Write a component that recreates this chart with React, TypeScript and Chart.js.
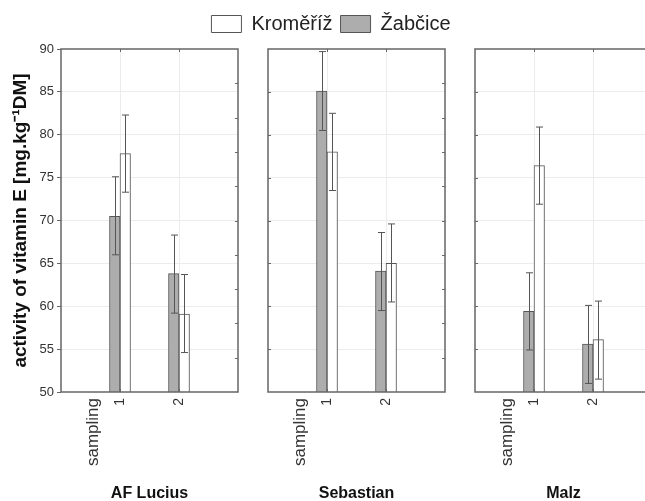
import React, { useEffect, useRef } from 'react';
import { Chart, registerables } from 'chart.js';

Chart.register(...registerables);

// ---- data ----
const cultivars = ['AF Lucius', 'Sebastian', 'Malz'];
const samplings = [1, 2];
const samplingAxisLabel = 'sampling';
const samplingLabelPos = 0.55;
const seriesNames = ['Žabčice', 'Kroměříž'];

// one row per cultivar, one column per sampling
const zabcice = [[70.5, 63.8], [85.1, 64.1], [59.4, 55.6]];
const zabciceHigh = [[75.1, 68.3], [89.7, 68.6], [63.9, 60.1]];
const zabciceLow = [[66.0, 59.2], [80.5, 59.5], [54.9, 51.0]];
const kromeriz = [[77.8, 59.1], [78.0, 65.0], [76.4, 56.1]];
const kromerizHigh = [[82.3, 63.7], [82.5, 69.6], [80.9, 60.6]];
const kromerizLow = [[73.3, 54.6], [73.5, 60.5], [71.9, 51.5]];

const yMin = 50;
const yMax = 90;
const yStep = 5;
const rightTicks = [54, 58, 62, 66, 70, 74, 78, 82, 86];
const yTitle = 'activity of vitamin E [mg.kg⁻¹DM]';

// ---- style / layout ----
const FONT = "'Liberation Sans', Arial, Helvetica, sans-serif";
const GRAY = '#adadad';
const EDGE = '#555555';
const FRAME = '#666666';
const GRID = '#ececec';
const TEXT = '#333333';
const CANVAS_H = 510;
const AREA_TOP = 49;
const AREA_BOTTOM = 392;
const AREA_W = 177;
// [canvasLeft, canvasWidth, yAxisWidth, rightSpace]
const panels: [number, number, number, number][] = [
  [0, 253, 61, 15],
  [147, 368, 121, 70],
  [414, 253, 61, 15],
];

const decor = {
  id: 'decor',
  afterDatasetsDraw(chart: any) {
    const ctx = chart.ctx;
    const ys = chart.scales.y;
    const ca = chart.chartArea;
    ctx.save();
    ctx.beginPath();
    ctx.rect(ca.left, ca.top - 2, ca.right - ca.left, ca.bottom - ca.top + 4);
    ctx.clip();
    ctx.strokeStyle = EDGE;
    ctx.lineWidth = 1;
    chart.data.datasets.forEach((ds: any, di: number) => {
      const meta = chart.getDatasetMeta(di);
      meta.data.forEach((bar: any, i: number) => {
        const x = Math.round(bar.x) + 0.5;
        const yh = ys.getPixelForValue(ds.errHigh[i]);
        const yl = ys.getPixelForValue(ds.errLow[i]);
        ctx.beginPath();
        ctx.moveTo(x, yh);
        ctx.lineTo(x, yl);
        ctx.moveTo(x - 3.5, yh);
        ctx.lineTo(x + 3.5, yh);
        ctx.moveTo(x - 3.5, yl);
        ctx.lineTo(x + 3.5, yl);
        ctx.stroke();
      });
    });
    ctx.restore();
  },
  afterDraw(chart: any) {
    const ctx = chart.ctx;
    const ca = chart.chartArea;
    const xs = chart.scales.x;
    const ys = chart.scales.y;
    const inner = chart.options.plugins.decor.innerLeft;
    ctx.save();
    ctx.strokeStyle = FRAME;
    ctx.lineWidth = 1;
    ctx.beginPath();
    samplings.forEach((s) => {
      const x = Math.round(xs.getPixelForValue(s)) + 0.5;
      ctx.moveTo(x, ca.top);
      ctx.lineTo(x, ca.top + 3);
      ctx.moveTo(x, ca.bottom);
      ctx.lineTo(x, ca.bottom - 3);
    });
    rightTicks.forEach((v) => {
      const y = Math.round(ys.getPixelForValue(v)) + 0.5;
      ctx.moveTo(ca.right, y);
      ctx.lineTo(ca.right - 3, y);
    });
    if (inner) {
      for (let v = yMin + yStep; v < yMax; v += yStep) {
        const y = Math.round(ys.getPixelForValue(v)) + 0.5;
        ctx.moveTo(ca.left, y);
        ctx.lineTo(ca.left + 3, y);
      }
    }
    ctx.stroke();
    ctx.lineWidth = 1.5;
    ctx.strokeRect(ca.left, ca.top, ca.right - ca.left, ca.bottom - ca.top);
    ctx.restore();
  },
};

const hiddenAxis = (position: string, size: number) => ({
  position,
  display: true,
  ticks: { display: false },
  grid: { display: false, drawTicks: false },
  border: { display: false },
  afterFit: (s: any) => {
    if (position === 'top' || position === 'bottom') s.height = size;
    else s.width = size;
  },
});

function makeConfig(p: number): any {
  const [, , yw, rs] = panels[p];
  const first = p === 0;
  const withLegend = p === 1;
  const scales: any = {
    x: {
      type: 'linear',
      min: 0,
      max: 3,
      offset: false,
      afterBuildTicks: (s: any) => {
        s.ticks = [{ value: samplingLabelPos }, ...samplings.map((v) => ({ value: v }))];
      },
      afterFit: (s: any) => {
        s.height = CANVAS_H - AREA_BOTTOM;
      },
      ticks: {
        autoSkip: false,
        minRotation: 90,
        maxRotation: 90,
        padding: 6,
        color: TEXT,
        font: (c: any) => ({ family: FONT, size: c.tick && c.tick.value < 1 ? 17 : 14 }),
        callback: (v: number) => (v < 1 ? samplingAxisLabel : String(v)),
      },
      grid: {
        offset: false,
        color: (c: any) => (c.tick && samplings.includes(c.tick.value) ? GRID : 'rgba(0,0,0,0)'),
        drawTicks: false,
      },
      border: { display: false },
      title: {
        display: true,
        text: cultivars[p],
        color: '#111',
        font: { family: FONT, size: 16, weight: 'bold' },
        padding: { top: 0, bottom: 7 },
      },
    },
    y: {
      min: yMin,
      max: yMax,
      afterFit: (s: any) => {
        s.width = yw;
      },
      ticks: {
        stepSize: yStep,
        display: first,
        padding: 3,
        color: TEXT,
        font: { family: FONT, size: 13 },
      },
      grid: {
        color: (c: any) =>
          c.tick && (c.tick.value === yMin || c.tick.value === yMax) ? 'rgba(0,0,0,0)' : GRID,
        drawTicks: first,
        tickLength: 4,
        tickColor: FRAME,
      },
      border: { display: false },
      title: {
        display: first,
        text: yTitle,
        color: '#111',
        font: { family: FONT, size: 19, weight: 'bold' },
        padding: { top: 9, bottom: 0 },
      },
    },
    yRightSpace: hiddenAxis('right', rs),
  };
  if (withLegend) scales.xTopSpace = hiddenAxis('top', 5);
  return {
    type: 'bar',
    data: {
      datasets: [
        {
          label: seriesNames[0],
          data: samplings.map((s, i) => ({ x: s, y: zabcice[p][i] })),
          errHigh: zabciceHigh[p],
          errLow: zabciceLow[p],
          backgroundColor: GRAY,
          borderColor: EDGE,
          borderWidth: 1,
          barThickness: 10.5,
        },
        {
          label: seriesNames[1],
          data: samplings.map((s, i) => ({ x: s, y: kromeriz[p][i] })),
          errHigh: kromerizHigh[p],
          errLow: kromerizLow[p],
          backgroundColor: '#ffffff',
          borderColor: EDGE,
          borderWidth: 1,
          barThickness: 10.5,
        },
      ],
    },
    options: {
      animation: false,
      responsive: false,
      maintainAspectRatio: false,
      events: [],
      layout: { padding: { top: withLegend ? 0 : AREA_TOP, right: 0, bottom: 0, left: 0 } },
      plugins: {
        tooltip: { enabled: false },
        decor: { innerLeft: !first },
        legend: {
          display: withLegend,
          position: 'top',
          labels: {
            sort: (a: any, b: any) => b.datasetIndex - a.datasetIndex,
            boxWidth: 30,
            boxHeight: 17,
            padding: 8,
            color: '#222',
            font: { family: FONT, size: 20 },
          },
        },
      },
      scales,
    },
    plugins: [decor],
  };
}

export default function App() {
  const r0 = useRef<HTMLCanvasElement>(null);
  const r1 = useRef<HTMLCanvasElement>(null);
  const r2 = useRef<HTMLCanvasElement>(null);
  const refs = [r0, r1, r2];

  useEffect(() => {
    const charts = refs.map((r, p) => new Chart(r.current as HTMLCanvasElement, makeConfig(p)));
    const mid = charts[1];
    const shift = AREA_TOP - mid.chartArea.top;
    (mid.options.layout as any).padding.top = shift;
    mid.update();
    return () => charts.forEach((c) => c.destroy());
  }, []);

  return (
    <div
      style={{
        position: 'absolute',
        left: 0,
        top: 0,
        width: 645,
        height: 501,
        overflow: 'hidden',
        background: '#ffffff',
      }}
    >
      {panels.map(([left, w], p) => (
        <canvas
          key={p}
          ref={refs[p]}
          width={w}
          height={CANVAS_H}
          style={{ position: 'absolute', left, top: 0, width: w, height: CANVAS_H }}
        />
      ))}
    </div>
  );
}
